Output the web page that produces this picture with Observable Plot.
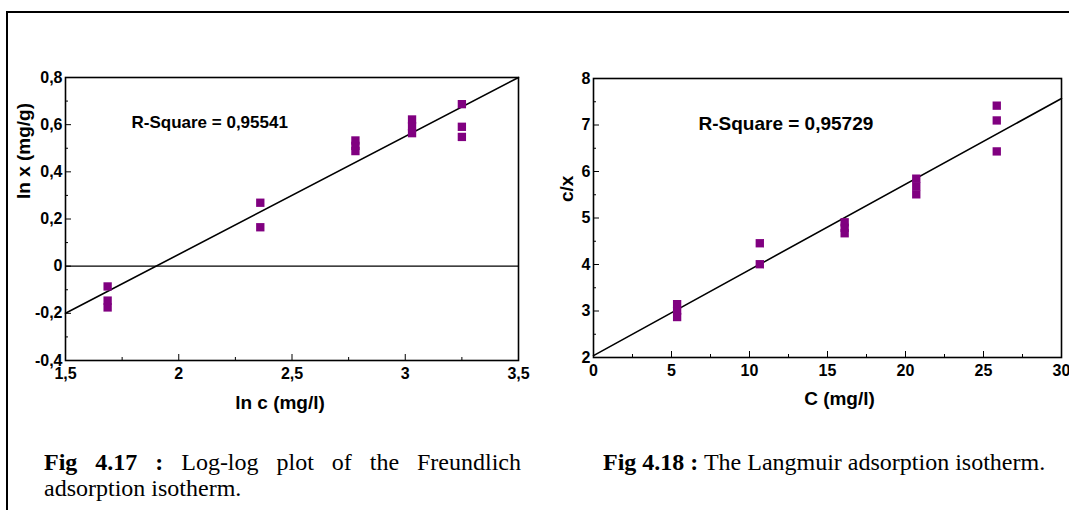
<!DOCTYPE html>
<html><head><meta charset="utf-8">
<script src="https://cdn.jsdelivr.net/npm/d3@7"></script>
<script src="https://cdn.jsdelivr.net/npm/@observablehq/plot@0.6"></script>
<style>
body{margin:0;background:#fff;width:1069px;height:510px;overflow:hidden;position:relative;font-family:"Liberation Sans",Arial,sans-serif}
#border{position:absolute;left:6px;top:11px;width:1100px;height:600px;border-left:2px solid #000;border-top:2px solid #000;box-sizing:border-box}
#left{position:absolute;left:0;top:0}
#right{position:absolute;left:540px;top:0}
.cap{position:absolute;font-family:"Liberation Serif","Times New Roman",serif;font-size:24px;line-height:26px;color:#000;white-space:nowrap}
#capL1{left:44px;top:449px;width:477px;text-align:justify;text-align-last:justify}
#capL2{left:44px;top:475px}
#capR{left:603px;top:449px}
</style></head>
<body>
<div id="border"></div>
<div id="left"></div>
<div id="right"></div>
<div class="cap" id="capL1"><b>Fig 4.17 :</b> <span>Log-log plot of the Freundlich</span></div>
<div class="cap" id="capL2">adsorption isotherm.</div>
<div class="cap" id="capR"><b>Fig 4.18 :</b> <span>The Langmuir adsorption isotherm.</span></div>
<script>
// ---- Fig 4.17 : Freundlich (ln c vs ln x)
const lnC = [1.686, 1.686, 1.686, 2.36, 2.36, 2.78, 2.78, 2.78, 3.03, 3.03, 3.03, 3.25, 3.25, 3.25];
const lnX = [-0.086, -0.146, -0.175, 0.269, 0.165, 0.533, 0.51, 0.488, 0.622, 0.593, 0.564, 0.687, 0.591, 0.548];
const freundlichFitX = [1.5, 3.5];
const freundlichFitY = [-0.2, 0.8];
const freundlichR2 = "R-Square = 0,95541";
const leftXMajor = [1.5, 2, 2.5, 3, 3.5];
const leftXLabels = ["1,5", "2", "2,5", "3", "3,5"];
const leftXMinor = [1.75, 2.25, 2.75, 3.25];
const leftYMajor = [-0.4, -0.2, 0, 0.2, 0.4, 0.6, 0.8];
const leftYLabels = ["-0,4", "-0,2", "0", "0,2", "0,4", "0,6", "0,8"];
const leftYMinor = [-0.3, -0.1, 0.1, 0.3, 0.5, 0.7];

// ---- Fig 4.18 : Langmuir (C vs c/x)
const concC = [5.36, 5.36, 5.36, 10.66, 10.66, 16.1, 16.1, 16.1, 20.69, 20.69, 20.69, 25.85, 25.85, 25.85];
const cOverX = [3.147, 3.01, 2.87, 4.457, 4.006, 4.908, 4.79, 4.672, 5.846, 5.68, 5.509, 7.416, 7.098, 6.432];
const langmuirFitX = [0, 30];
const langmuirFitY = [2.04, 7.57];
const langmuirR2 = "R-Square = 0,95729";
const rightXMajor = [0, 5, 10, 15, 20, 25, 30];
const rightXLabels = ["0", "5", "10", "15", "20", "25", "30"];
const rightXMinor = [2.5, 7.5, 12.5, 17.5, 22.5, 27.5];
const rightYMajor = [2, 3, 4, 5, 6, 7, 8];
const rightYLabels = ["2", "3", "4", "5", "6", "7", "8"];
const rightYMinor = [2.5, 3.5, 4.5, 5.5, 6.5, 7.5];

const purple = "#800080";
const font = '"Liberation Sans", Arial, Helvetica, sans-serif';

function makeChart(o) {
  const pts = o.xs.map((x, i) => ({x, y: o.ys[i]}));
  const fit = o.fitX.map((x, i) => ({x, y: o.fitY[i]}));
  const marks = [];
  if (o.zeroLine) marks.push(Plot.ruleY([0], {stroke: "#000", strokeWidth: 1.2}));
  marks.push(
    Plot.line(fit, {x: "x", y: "y", stroke: "#000", strokeWidth: 1.6}),
    Plot.dot(pts, {x: "x", y: "y", symbol: "square", r: 4.7, fill: purple, stroke: "none"}),
    Plot.frame({stroke: "#000", strokeWidth: 1.6}),
    Plot.axisX(o.xMinor, {anchor: "bottom", tickSize: -3, text: null, label: null, stroke: "#000"}),
    Plot.axisX(o.xMajor, {anchor: "bottom", tickSize: -6, text: null, label: null, stroke: "#000"}),
    Plot.axisX(o.xMajor, {anchor: "bottom", tickSize: 0, tickPadding: 7, label: null, fontSize: 16,
      tickFormat: (d, i) => o.xLabels[o.xMajor.indexOf(d)], fill: "#000"}),
    Plot.axisY(o.yMinor, {anchor: "left", tickSize: -3, text: null, label: null, stroke: "#000"}),
    Plot.axisY(o.yMajor, {anchor: "left", tickSize: -6, text: null, label: null, stroke: "#000"}),
    Plot.axisY(o.yMajor, {anchor: "left", tickSize: 0, tickPadding: 3, label: null, fontSize: 16,
      tickFormat: (d) => o.yLabels[o.yMajor.indexOf(d)], fill: "#000"}),
    Plot.text([o.r2], {frameAnchor: "top-left", dx: o.r2dx, dy: o.r2dy, textAnchor: "start",
      lineAnchor: "middle", fontSize: o.r2size, fontWeight: "bold", fill: "#000"}),
    Plot.text([o.xTitle], {frameAnchor: "bottom", dx: o.xtdx, dy: o.xtdy, lineAnchor: "middle",
      fontSize: 19, fontWeight: "bold", fill: "#000"}),
    Plot.text([o.yTitle], {frameAnchor: "left", dx: o.ytdx, dy: o.ytdy, rotate: -90, lineAnchor: "middle",
      fontSize: 19, fontWeight: "bold", fill: "#000"})
  );
  return Plot.plot({
    width: o.width, height: 420,
    marginLeft: o.ml, marginRight: o.mr, marginTop: o.mt, marginBottom: o.mb,
    x: {domain: o.xDomain, axis: null},
    y: {domain: o.yDomain, axis: null},
    style: {fontFamily: font, fontSize: "16px", fontWeight: "bold", background: "transparent", color: "#000", overflow: "visible"},
    marks
  });
}

document.getElementById("left").append(makeChart({
  width: 540, ml: 65, mr: 22, mt: 77, mb: 60,
  xs: lnC, ys: lnX, fitX: freundlichFitX, fitY: freundlichFitY, zeroLine: true,
  xDomain: [1.5, 3.5], yDomain: [-0.4, 0.8],
  xMajor: leftXMajor, xLabels: leftXLabels, xMinor: leftXMinor,
  yMajor: leftYMajor, yLabels: leftYLabels, yMinor: leftYMinor,
  r2: freundlichR2, r2dx: 66, r2dy: 45, r2size: 17,
  xTitle: "ln c (mg/l)", xtdx: -12, xtdy: 42,
  yTitle: "ln x (mg/g)", ytdx: -42, ytdy: -20
}));

document.getElementById("right").append(makeChart({
  width: 529, ml: 53, mr: 8, mt: 78, mb: 63,
  xs: concC, ys: cOverX, fitX: langmuirFitX, fitY: langmuirFitY, zeroLine: false,
  xDomain: [0, 30], yDomain: [2, 8],
  xMajor: rightXMajor, xLabels: rightXLabels, xMinor: rightXMinor,
  yMajor: rightYMajor, yLabels: rightYLabels, yMinor: rightYMinor,
  r2: langmuirR2, r2dx: 105, r2dy: 45, r2size: 19,
  xTitle: "C (mg/l)", xtdx: 12, xtdy: 41,
  yTitle: "c/x", ytdx: -27, ytdy: -16
}));
</script>
</body></html>
